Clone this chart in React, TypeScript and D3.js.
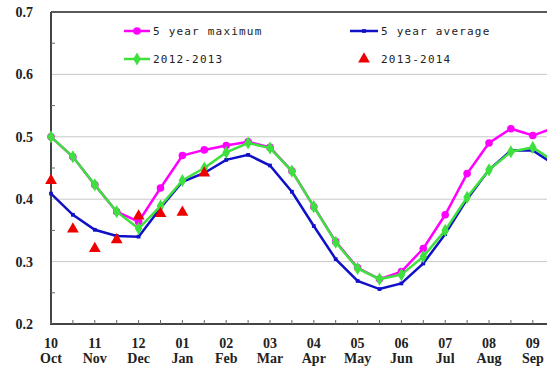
import React from "react";
import * as d3 from "d3";

// half-month points, Oct (index 0) .. Sep (index 22+)
const monthNums = ["10", "11", "12", "01", "02", "03", "04", "05", "06", "07", "08", "09"];
const monthNames = ["Oct", "Nov", "Dec", "Jan", "Feb", "Mar", "Apr", "May", "Jun", "Jul", "Aug", "Sep"];

const fiveYearMax = [0.5, 0.468, 0.423, 0.38, 0.364, 0.418, 0.47, 0.479, 0.486, 0.492, 0.483, 0.445, 0.388, 0.332, 0.29, 0.272, 0.284, 0.321, 0.375, 0.441, 0.49, 0.513, 0.502, 0.515];
const fiveYearAvg = [0.409, 0.375, 0.351, 0.341, 0.34, 0.386, 0.428, 0.442, 0.463, 0.471, 0.454, 0.412, 0.357, 0.304, 0.269, 0.256, 0.265, 0.297, 0.344, 0.4, 0.447, 0.478, 0.478, 0.455];
const season1213 = [0.5, 0.468, 0.423, 0.38, 0.353, 0.389, 0.43, 0.45, 0.475, 0.49, 0.482, 0.445, 0.388, 0.331, 0.289, 0.272, 0.279, 0.308, 0.35, 0.403, 0.447, 0.476, 0.483, 0.46];
const season1314 = [0.43, 0.352, 0.321, 0.335, 0.373, 0.377, 0.379, 0.442];

const yTicks = [0.2, 0.3, 0.4, 0.5, 0.6, 0.7];

const W = 547;
const H = 368;
const left = 51;
const top = 12;
const bottom = 324;
const step = 21.9;

const App: React.FC = () => {
  const x = d3.scaleLinear().domain([0, 24]).range([left, left + 24 * step]);
  const y = d3.scaleLinear().domain([0.2, 0.7]).range([bottom, top]);
  const line = d3
    .line<number>()
    .x((_, i) => x(i))
    .y((d) => y(d));

  const diamond = d3.symbol().type(d3.symbolDiamond).size(50)()!;
  const square = d3.symbol().type(d3.symbolSquare).size(14)()!;
  const tri = d3.symbol().type(d3.symbolTriangle).size(60)()!;

  const halfTicks = d3.range(0, 24);
  const minorY = d3.range(0.25, 0.7, 0.1);

  const serif = "'Liberation Serif', 'Times New Roman', serif";
  const mono = "'DejaVu Sans Mono', monospace";

  return (
    <svg width={W} height={H} style={{ position: "absolute", left: 0, top: 0, background: "#fff" }}>
      {/* grid */}
      {yTicks.slice(1, -1).map((t) => (
        <line key={t} x1={left} x2={W} y1={y(t)} y2={y(t)} stroke="#c8c8c8" strokeWidth={1} />
      ))}
      <line x1={left} x2={W} y1={y(0.7)} y2={y(0.7)} stroke="#222" strokeWidth={1.5} />

      {/* y axis */}
      <line x1={left} x2={left} y1={top} y2={bottom + 1} stroke="#444" strokeWidth={2} />
      {minorY.map((t) => (
        <line key={t} x1={left} x2={left + 4} y1={y(t)} y2={y(t)} stroke="#666" strokeWidth={1} />
      ))}
      {yTicks.map((t) => (
        <text
          key={t}
          x={33}
          y={y(t)}
          dy="0.35em"
          textAnchor="end"
          fontFamily={serif}
          fontWeight="bold"
          fontSize={14}
          fill="#222"
        >
          {t.toFixed(1)}
        </text>
      ))}

      {/* x axis */}
      <line x1={left - 1} x2={W} y1={bottom} y2={bottom} stroke="#444" strokeWidth={2} />
      {halfTicks.map((i) => (
        <line key={i} x1={x(i)} x2={x(i)} y1={bottom} y2={bottom - 4} stroke="#666" strokeWidth={1} />
      ))}
      {monthNums.map((m, k) => (
        <g key={m} fontFamily={serif} fontWeight="bold" fontSize={14} fill="#222" textAnchor="middle">
          <text x={x(k * 2)} y={348}>{m}</text>
          <text x={x(k * 2)} y={363}>{monthNames[k]}</text>
        </g>
      ))}

      {/* series */}
      <path d={line(fiveYearMax)!} fill="none" stroke="#ff00ff" strokeWidth={2.5} />
      {fiveYearMax.map((d, i) => (
        <circle key={i} cx={x(i)} cy={y(d)} r={3.8} fill="#ff00ff" />
      ))}
      <path d={line(fiveYearAvg)!} fill="none" stroke="#1010c8" strokeWidth={2.5} />
      {fiveYearAvg.map((d, i) => (
        <path key={i} d={square} transform={`translate(${x(i)},${y(d)})`} fill="#1010c8" />
      ))}
      <path d={line(season1213)!} fill="none" stroke="#3ee03e" strokeWidth={2.5} />
      {season1213.map((d, i) => (
        <path key={i} d={diamond} transform={`translate(${x(i)},${y(d)})`} fill="#3ee03e" />
      ))}
      {season1314.map((d, i) => (
        <path key={i} d={tri} transform={`translate(${x(i)},${y(d)})`} fill="#ee0000" />
      ))}

      {/* legend */}
      <g fontFamily={mono} fontSize={11} letterSpacing={1.2} fill="#222">
        <line x1={124} x2={150} y1={31} y2={31} stroke="#ff00ff" strokeWidth={2.5} />
        <circle cx={137} cy={31} r={3.8} fill="#ff00ff" />
        <text x={153} y={31} dy="0.35em">5 year maximum</text>

        <line x1={350} x2={378} y1={31} y2={31} stroke="#1010c8" strokeWidth={2.5} />
        <path d={square} transform="translate(364,31)" fill="#1010c8" />
        <text x={381} y={31} dy="0.35em">5 year average</text>

        <line x1={124} x2={150} y1={59} y2={59} stroke="#3ee03e" strokeWidth={2.5} />
        <path d={diamond} transform="translate(137,59)" fill="#3ee03e" />
        <text x={153} y={59} dy="0.35em">2012-2013</text>

        <path d={tri} transform="translate(364,59)" fill="#ee0000" />
        <text x={381} y={59} dy="0.35em">2013-2014</text>
      </g>
    </svg>
  );
};

export default App;
